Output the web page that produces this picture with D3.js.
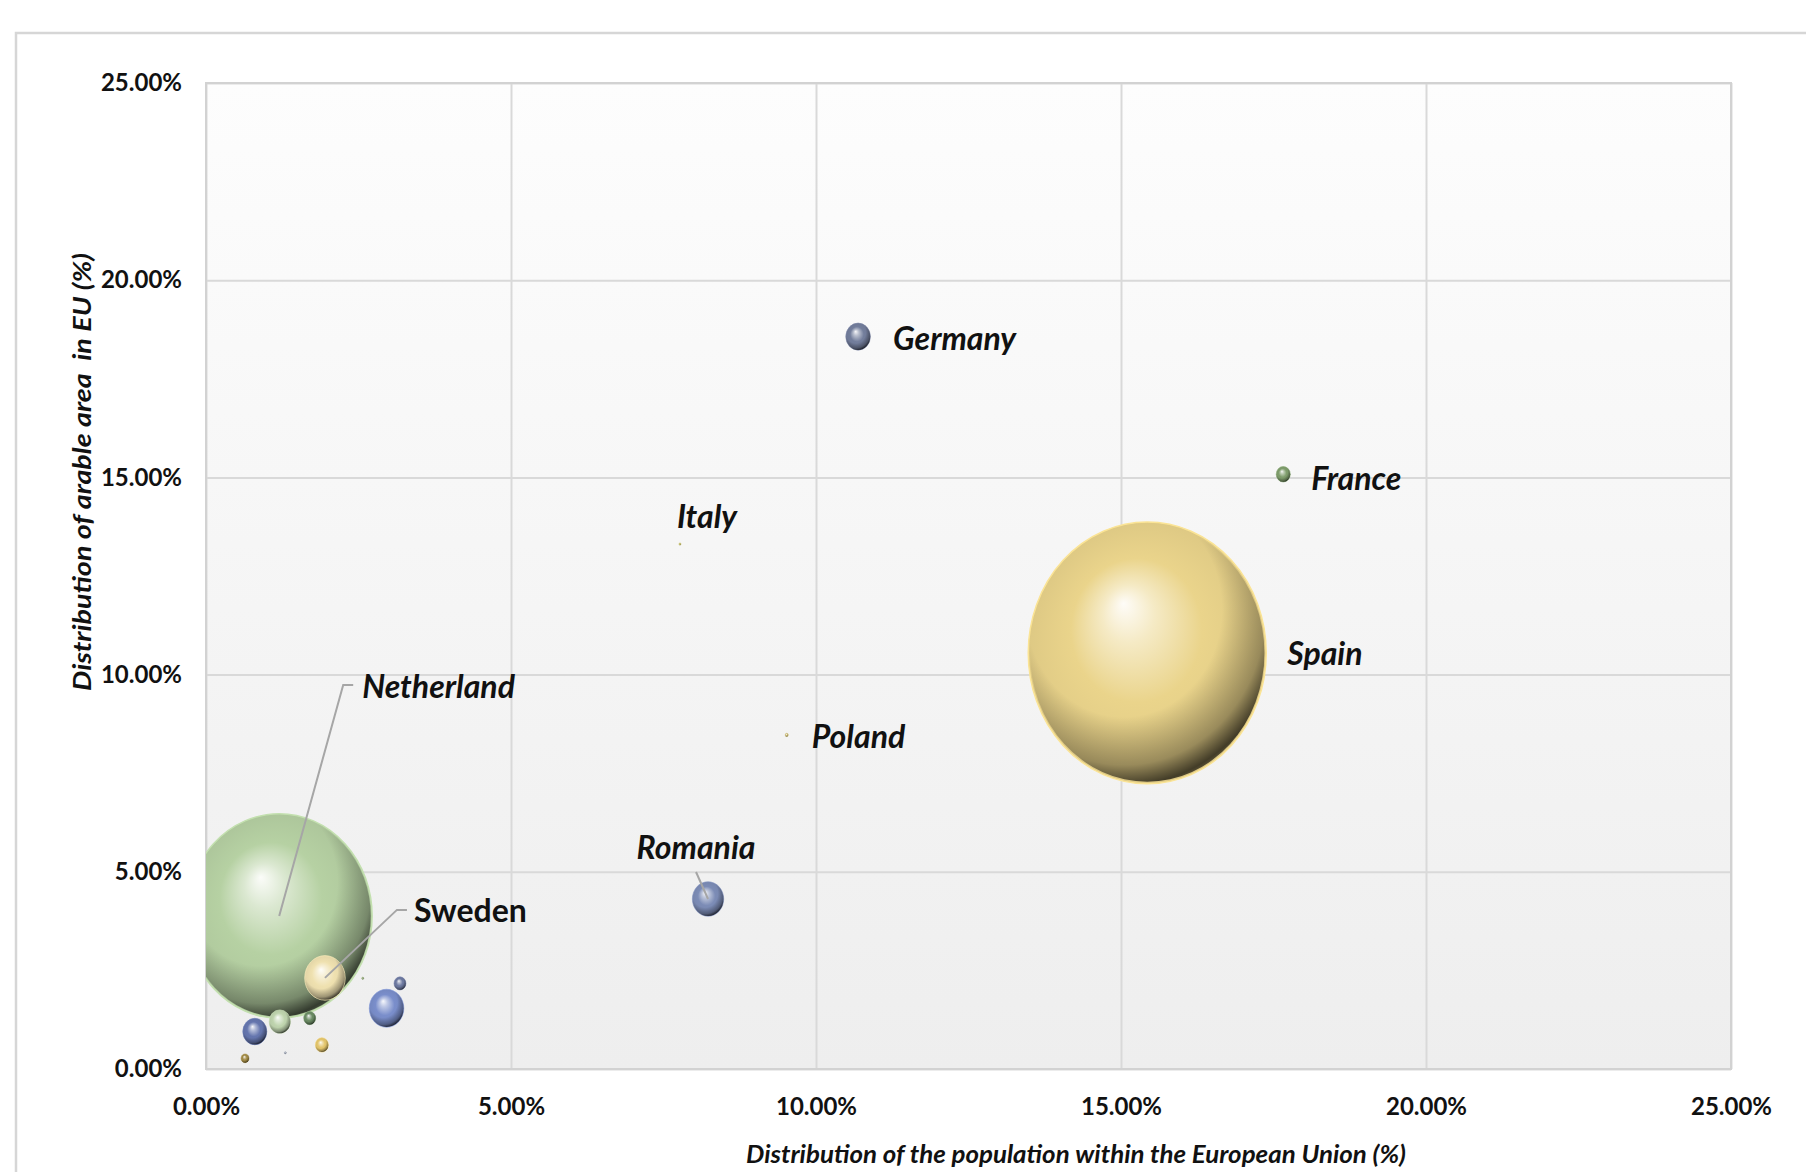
<!DOCTYPE html>
<html>
<head>
<meta charset="utf-8">
<script src="https://cdn.jsdelivr.net/npm/d3@7"></script>
<style>
  html, body { margin: 0; padding: 0; background: #ffffff; }
  svg { display: block; }
  text { font-family: Lato, "Open Sans", "Noto Sans", sans-serif; }
</style>
</head>
<body>
<svg id="chart" width="1806" height="1172"></svg>
<script>
// ---------------- DATA ----------------
const pointLabels = ["Spain", "Netherland", "Germany", "France", "Italy", "Poland", "Romania", "Sweden",
                     null, null, null, null, null, null, null, null, null];
// Distribution of the population within the EU (share)
const populationShare = [0.1543, 0.0120, 0.1069, 0.1766, 0.0777, 0.0952, 0.0823, 0.0195,
                         0.0080, 0.0121, 0.0170, 0.0190, 0.0064, 0.0296, 0.0318, 0.0257, 0.0130];
// Distribution of arable area in EU (share)
const arableShare = [0.1055, 0.0388, 0.1857, 0.1508, 0.1331, 0.0847, 0.0431, 0.0231,
                     0.0095, 0.0120, 0.0129, 0.0061, 0.0027, 0.0154, 0.0217, 0.0230, 0.0041];
// Bubble size (relative units)
const bubbleSize = [100, 61, 1.07, 0.35, 0.007, 0.016, 1.74, 2.9,
                    1.02, 0.81, 0.25, 0.30, 0.11, 2.11, 0.25, 0.007, 0.007];
const xTickValues = [0, 0.05, 0.10, 0.15, 0.20, 0.25];
const yTickValues = [0, 0.05, 0.10, 0.15, 0.20, 0.25];
const xAxisTitle = "Distribution of the population within the European Union (%)";
const yAxisTitle = "Distribution of arable area  in EU (%)";

// ---------------- STYLE ----------------
const pointColors = ["#eAd48b", "#b6d1a3", "#737e9c", "#7f9d6c", "#b7b060", "#c4b470", "#7c8cb6", "#efe1b0",
                     "#6576ae", "#bfd4ae", "#6b8b64", "#e3c56c", "#a08944", "#7a8ecb", "#6d79a0", "#8aa070", "#9aa0b0"];
// label placement (pixel offsets from bubble centre) and styles
const labelStyle = {
  "Spain":      {dx: 140, dy: 1,    anchor: "start",  italic: true},
  "Netherland": {dx: 83,  dy: -229, anchor: "start",  italic: true, leader: [[-9, -2], [-19, -2]]},
  "Germany":    {dx: 35,  dy: 2,    anchor: "start",  italic: true},
  "France":     {dx: 28,  dy: 4,    anchor: "start",  italic: true},
  "Italy":      {dx: -3,  dy: -28,  anchor: "start",  italic: true},
  "Poland":     {dx: 25,  dy: 2,    anchor: "start",  italic: true},
  "Romania":    {dx: -12, dy: -52,  anchor: "middle", italic: true, leader: [[0, 25]]},
  "Sweden":     {dx: 89,  dy: -67,  anchor: "start",  italic: false, leader: [[-7, -1], [-17, -1]]}
};

const W = 1806, H = 1172;
const plot = {left: 206, right: 1731, top: 83, bottom: 1069};

const svg = d3.select("#chart");
const defs = svg.append("defs");

// plot background gradient
const bg = defs.append("linearGradient").attr("id", "plotBg")
  .attr("x1", 0).attr("y1", 0).attr("x2", 0).attr("y2", 1);
bg.append("stop").attr("offset", "0%").attr("stop-color", "#fdfdfd");
bg.append("stop").attr("offset", "100%").attr("stop-color", "#eeeeee");

// shading overlay
const sh = defs.append("radialGradient").attr("id", "shade")
  .attr("cx", 0.40).attr("cy", 0.33).attr("r", 0.72);
sh.append("stop").attr("offset", "0%").attr("stop-color", "#000").attr("stop-opacity", 0);
sh.append("stop").attr("offset", "58%").attr("stop-color", "#000").attr("stop-opacity", 0);
sh.append("stop").attr("offset", "84%").attr("stop-color", "#000").attr("stop-opacity", 0.32);
sh.append("stop").attr("offset", "95%").attr("stop-color", "#000").attr("stop-opacity", 0.70);
sh.append("stop").attr("offset", "100%").attr("stop-color", "#000").attr("stop-opacity", 0.5);

pointColors.forEach((c, i) => {
  const g = defs.append("radialGradient").attr("id", "ball" + i)
    .attr("cx", 0.5).attr("cy", 0.5).attr("r", 0.5)
    .attr("fx", 0.40).attr("fy", 0.31);
  const base = d3.color(c);
  g.append("stop").attr("offset", "0%").attr("stop-color", d3.interpolateRgb(c, "#ffffff")(0.94));
  g.append("stop").attr("offset", "22%").attr("stop-color", d3.interpolateRgb(c, "#ffffff")(0.5));
  g.append("stop").attr("offset", "55%").attr("stop-color", c);
  g.append("stop").attr("offset", "100%").attr("stop-color", base.darker(0.15));
});

defs.append("clipPath").attr("id", "plotClip").append("rect")
  .attr("x", plot.left).attr("y", plot.top)
  .attr("width", plot.right - plot.left).attr("height", plot.bottom - plot.top);

// outer chart border (extends beyond the picture on right/bottom)
svg.append("rect").attr("x", 16).attr("y", 33).attr("width", W).attr("height", H)
  .attr("fill", "#ffffff").attr("stroke", "#d6d6d6").attr("stroke-width", 2.5);

// scales
const x = d3.scaleLinear().domain([0, 0.25]).range([plot.left, plot.right]);
const y = d3.scaleLinear().domain([0, 0.25]).range([plot.bottom, plot.top]);
const r = d3.scaleSqrt().domain([0, d3.max(bubbleSize)]).range([0, 119]);
const aspect = 1.1;

// plot area
svg.append("rect").attr("x", plot.left).attr("y", plot.top)
  .attr("width", plot.right - plot.left).attr("height", plot.bottom - plot.top)
  .attr("fill", "url(#plotBg)");

// gridlines
const gridX = svg.append("g").attr("transform", `translate(0,${plot.bottom})`)
  .call(d3.axisBottom(x).tickValues(xTickValues).tickSize(-(plot.bottom - plot.top)).tickFormat(""));
const gridY = svg.append("g").attr("transform", `translate(${plot.left},0)`)
  .call(d3.axisLeft(y).tickValues(yTickValues).tickSize(-(plot.right - plot.left)).tickFormat(""));
[gridX, gridY].forEach(g => {
  g.select(".domain").remove();
  g.selectAll("line").attr("stroke", "#d9d9d9").attr("stroke-width", 2);
});

// plot border
svg.append("rect").attr("x", plot.left).attr("y", plot.top)
  .attr("width", plot.right - plot.left).attr("height", plot.bottom - plot.top)
  .attr("fill", "none").attr("stroke", "#d2d2d2").attr("stroke-width", 2);

// tick labels
const fmt = d3.format(".2%");
const xAx = svg.append("g").attr("transform", `translate(0,${plot.bottom})`)
  .call(d3.axisBottom(x).tickValues(xTickValues).tickFormat(fmt).tickSize(0).tickPadding(29));
const yAx = svg.append("g").attr("transform", `translate(${plot.left},0)`)
  .call(d3.axisLeft(y).tickValues(yTickValues).tickFormat(fmt).tickSize(0).tickPadding(24));
[xAx, yAx].forEach(g => {
  g.select(".domain").remove();
  g.selectAll("text").attr("font-family", "Lato, 'Open Sans', sans-serif")
    .attr("font-size", 24).attr("font-weight", "bold").attr("fill", "#111");
});

// bubbles
const pts = populationShare.map((v, i) => ({
  i, label: pointLabels[i], px: x(v), py: y(arableShare[i]), rad: r(bubbleSize[i])
}));
const order = pts.slice().sort((a, b) => b.rad - a.rad);
const bubbles = svg.append("g").attr("clip-path", "url(#plotClip)");
const bg2 = bubbles.selectAll("g.b").data(order).join("g").attr("class", "b");
bg2.append("ellipse")
  .attr("cx", d => d.px).attr("cy", d => d.py)
  .attr("rx", d => Math.max(d.rad, 1)).attr("ry", d => Math.max(d.rad, 1) * aspect)
  .attr("fill", d => `url(#ball${d.i})`)
  .attr("stroke", d => d3.color(pointColors[d.i]).brighter(0.2))
  .attr("stroke-width", d => d.rad > 30 ? 1.5 : 0.6);
bg2.append("ellipse")
  .attr("cx", d => d.px).attr("cy", d => d.py)
  .attr("rx", d => Math.max(d.rad, 1) * 0.985).attr("ry", d => Math.max(d.rad, 1) * aspect * 0.985)
  .attr("fill", "url(#shade)");

// leader lines & labels
const labeled = pts.filter(d => d.label);
const leaders = svg.append("g");
labeled.forEach(d => {
  const s = labelStyle[d.label];
  if (!s.leader) return;
  const lx = d.px + s.dx, ly = d.py + s.dy;
  const path = s.leader.map(p => [lx + p[0], ly + p[1]]);
  path.push([d.px, d.py]);
  leaders.append("path").attr("d", d3.line()(path))
    .attr("fill", "none").attr("stroke", "#a6a6a6").attr("stroke-width", 2);
});
svg.append("g").selectAll("text").data(labeled).join("text")
  .attr("x", d => d.px + labelStyle[d.label].dx)
  .attr("y", d => d.py + labelStyle[d.label].dy)
  .attr("dy", "0.36em")
  .attr("text-anchor", d => labelStyle[d.label].anchor)
  .attr("font-size", 32).attr("font-weight", "bold")
  .attr("font-style", d => labelStyle[d.label].italic ? "italic" : "normal")
  .attr("fill", "#111")
  .text(d => d.label);

// axis titles
svg.append("text").attr("x", 1076).attr("y", 1154).attr("dy", "0.36em")
  .attr("text-anchor", "middle").attr("font-size", 25).attr("font-weight", "bold")
  .attr("font-style", "italic").attr("fill", "#111")
  .attr("textLength", 660).attr("lengthAdjust", "spacingAndGlyphs").text(xAxisTitle);
svg.append("text").attr("transform", "translate(82,472) rotate(-90)").attr("dy", "0.36em")
  .attr("text-anchor", "middle").attr("font-size", 25).attr("font-weight", "bold")
  .attr("font-style", "italic").attr("fill", "#111").style("white-space", "pre")
  .attr("textLength", 438).attr("lengthAdjust", "spacingAndGlyphs").text(yAxisTitle);
</script>
</body>
</html>
